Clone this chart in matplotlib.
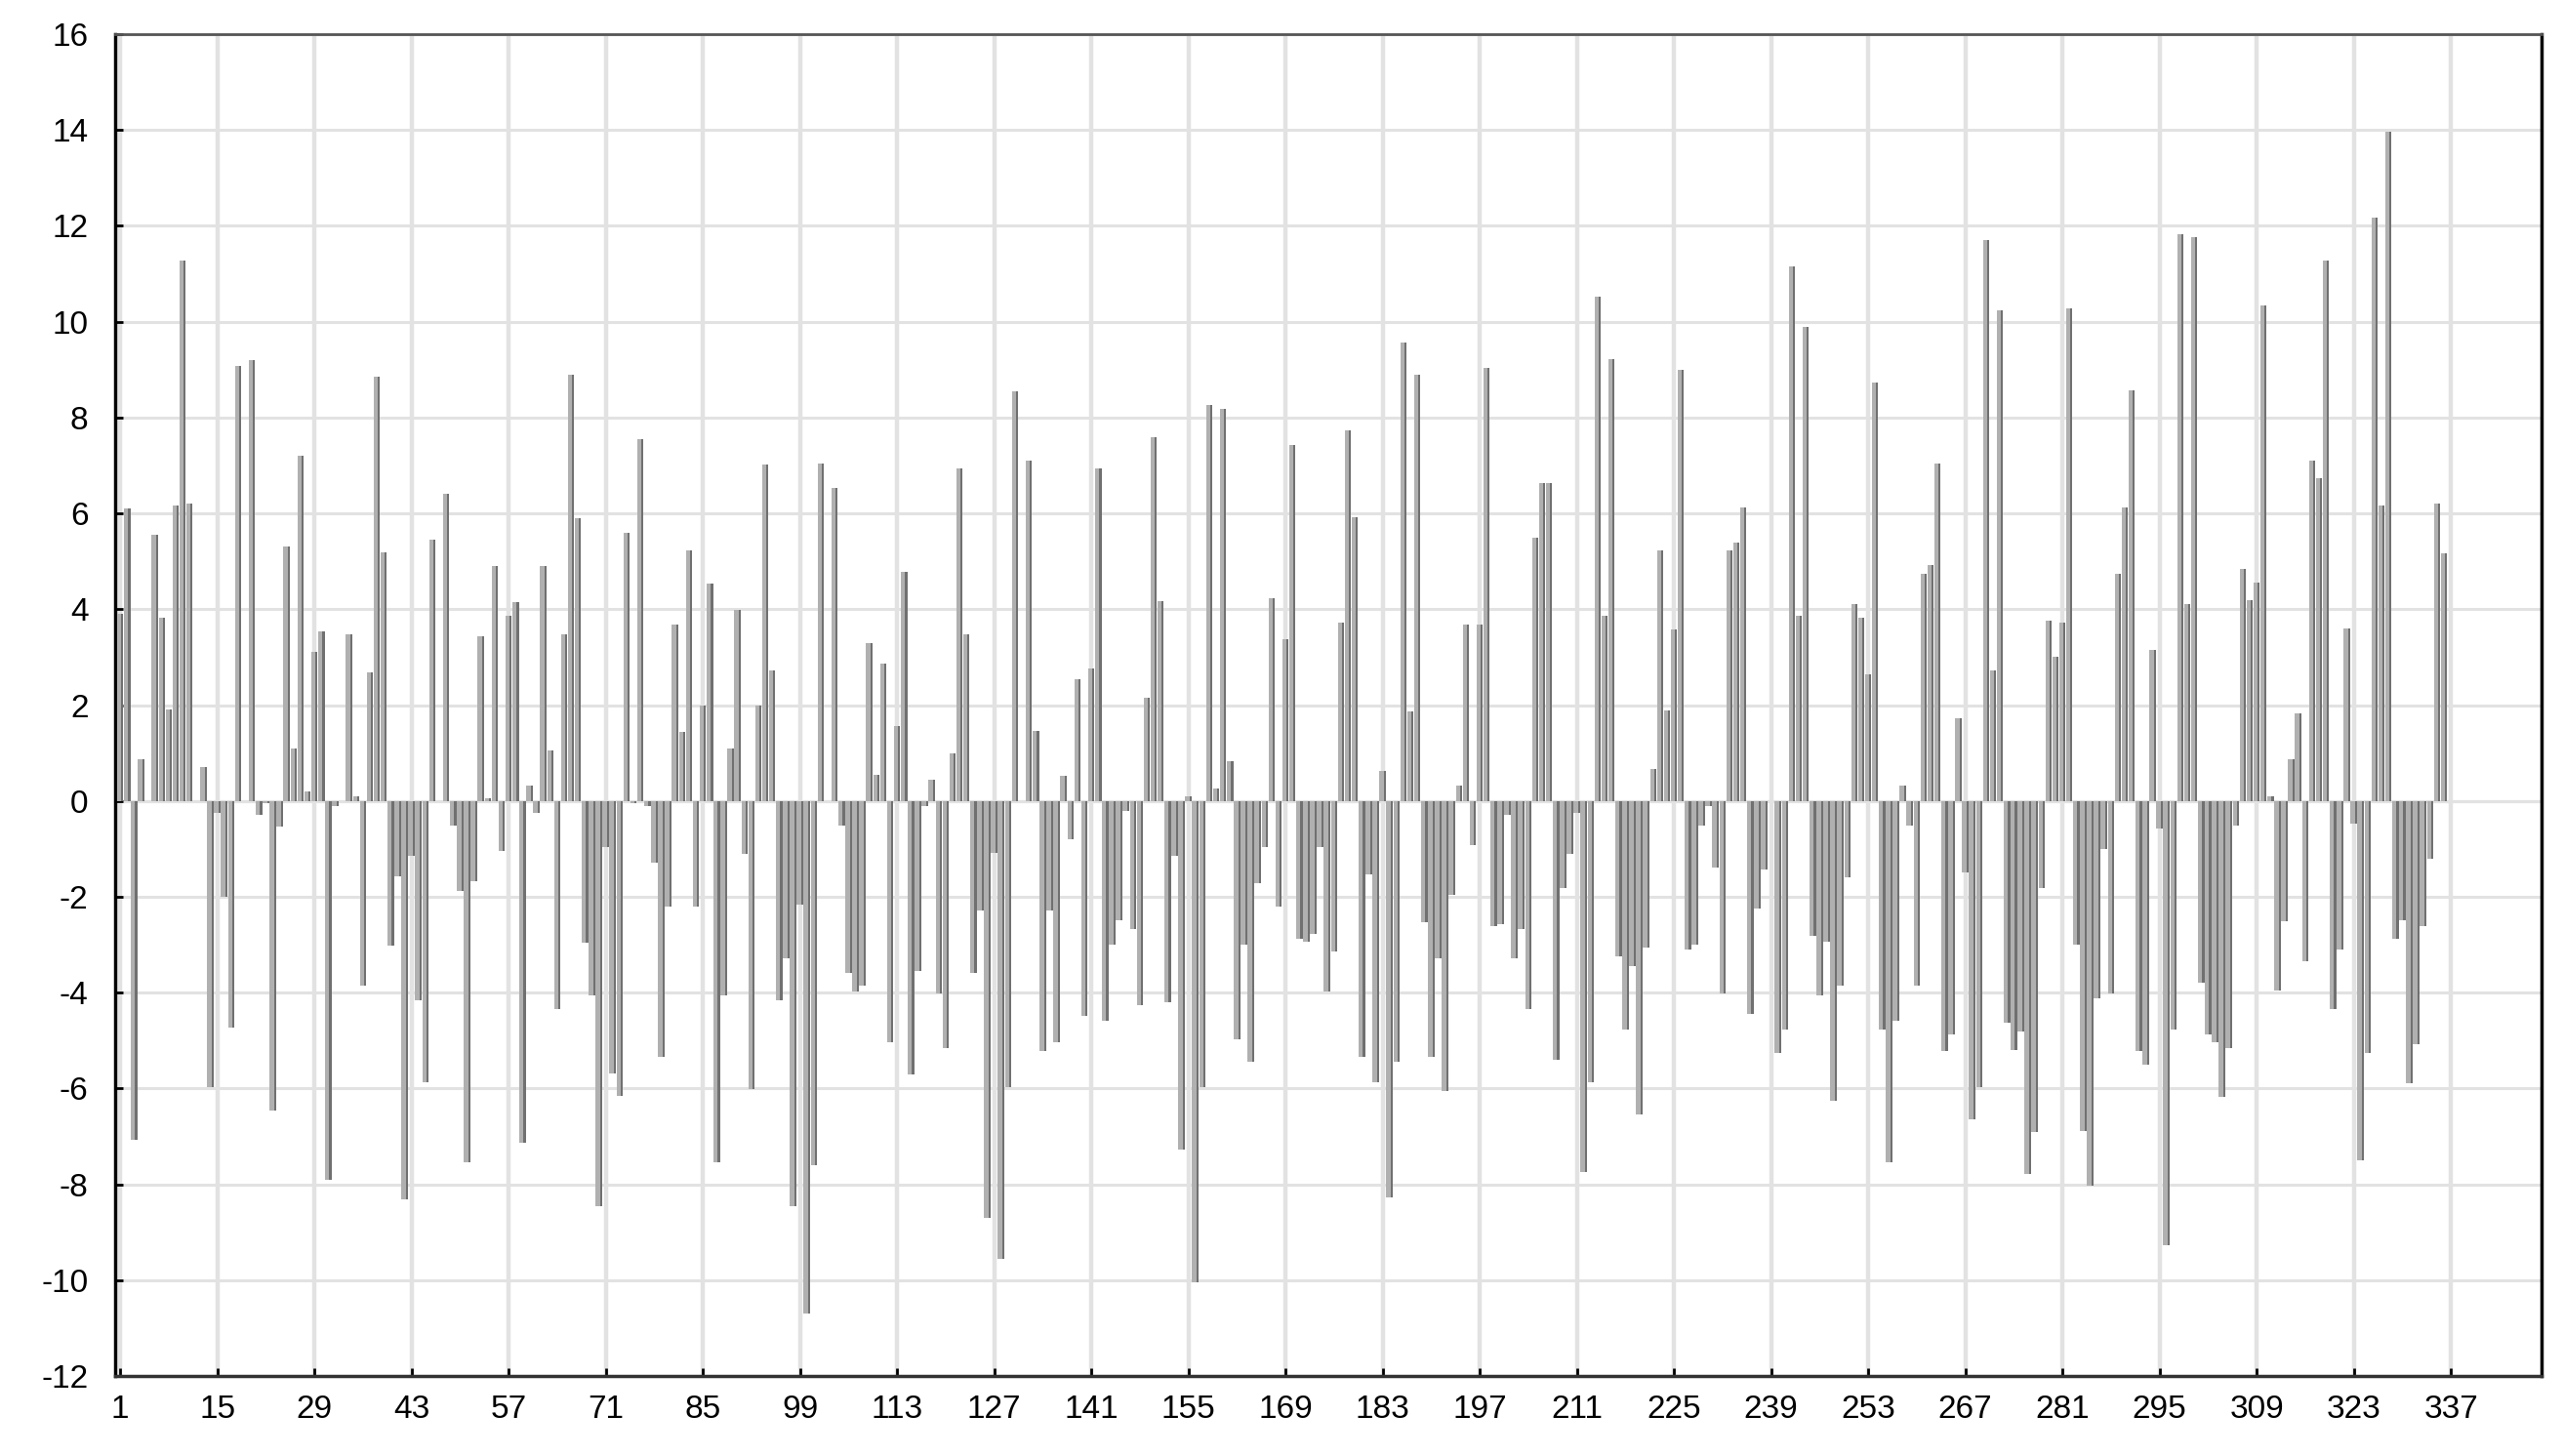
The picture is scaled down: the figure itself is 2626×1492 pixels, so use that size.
import numpy as np
import matplotlib
matplotlib.use("Agg")
import matplotlib.pyplot as plt

plt.rcParams['font.family'] = ['Liberation Sans', 'DejaVu Sans']
plt.rcParams['axes.unicode_minus'] = False

# bar values, index 1..336
vals_a = [3.9, 6.1, -7.07, 0.86, 0.0, 5.55, 3.82, 1.91, 6.16, 11.28,
          6.2, 0.0, 0.7, -5.97, -0.25, -2.0, -4.74, 9.08, 0.0, 9.2,
          -0.3, -0.05, -6.46, -0.53, 5.3, 1.09, 7.2, 0.19, 3.1, 3.54,
          -7.9, -0.1, 0.0, 3.48, 0.1, -3.86, 2.68, 8.85, 5.18, -3.02,
          -1.57, -8.32, -1.15, -4.17, -5.87, 5.45, 0.0, 6.4, -0.52, -1.87,
          -7.55, -1.68, 3.44, 0.05, 4.91, -1.05, 3.86, 4.15, -7.13, 0.33,
          -0.25, 4.91, 1.05, -4.34, 3.48, 8.89, 5.89, -2.96, -4.05, -8.45,
          -0.96, -5.68, -6.16, 5.6, -0.05, 7.55, -0.1, -1.28, -5.35, -2.2,
          3.67, 1.43, 5.22, -2.2]
vals_b = [2.0, 4.53, -7.55, -4.05, 1.09, 3.98, -1.11, -6.02, 2.0, 7.02,
          2.72, -4.17, -3.29, -8.45, -2.16, -10.7, -7.6, 7.04, 0.0, 6.54,
          -0.52, -3.6, -3.98, -3.86, 3.29, 0.55, 2.87, -5.03, 1.57, 4.78,
          -5.7, -3.54, -0.1, 0.44, -4.02, -5.16, 0.99, 6.94, 3.48, -3.6,
          -2.29, -8.7, -1.09, -9.56, -5.97, 8.55, 0.0, 7.11, 1.47, -5.22,
          -2.29, -5.03, 0.52, -0.8, 2.54, -4.49, 2.77, 6.94, -4.59, -3.0,
          -2.49, -0.2, -2.68, -4.26, 2.16, 7.59, 4.17, -4.2, -1.15, -7.27,
          0.1, -10.04, -5.97, 8.26, 0.25, 8.18, 0.82, -4.97, -3.0, -5.45,
          -1.72, -0.96, 4.23, -2.2]
vals_c = [3.38, 7.42, -2.87, -2.93, -2.77, -0.96, -3.98, -3.15, 3.73, 7.74,
          5.93, -5.35, -1.53, -5.87, 0.63, -8.28, -5.45, 9.56, 1.87, 8.89,
          -2.54, -5.35, -3.29, -6.06, -1.97, 0.33, 3.67, -0.92, 3.67, 9.04,
          -2.62, -2.58, -0.29, -3.29, -2.68, -4.34, 5.49, 6.63, 6.63, -5.41,
          -1.82, -1.11, -0.25, -7.74, -5.87, 10.52, 3.86, 9.22, -3.25, -4.78,
          -3.44, -6.54, -3.06, 0.67, 5.22, 1.89, 3.58, 8.99, -3.1, -3.0,
          -0.52, -0.1, -1.4, -4.02, 5.22, 5.39, 6.12, -4.44, -2.24, -1.43,
          0.0, -5.26, -4.78, 11.15, 3.86, 9.9, -2.81, -4.05, -2.93, -6.25,
          -3.86, -1.59, 4.11, 3.82]
vals_d = [2.64, 8.74, -4.78, -7.55, -4.59, 0.33, -0.52, -3.86, 4.74, 4.93,
          7.04, -5.22, -4.88, 1.72, -1.49, -6.65, -5.98, 11.7, 2.72, 10.23,
          -4.63, -5.2, -4.82, -7.78, -6.92, -1.82, 3.77, 3.0, 3.73, 10.27,
          -3.0, -6.88, -8.03, -4.11, -1.01, -4.02, 4.74, 6.12, 8.57, -5.22,
          -5.51, 3.15, -0.57, -9.27, -4.78, 11.82, 4.11, 11.76, -3.79, -4.88,
          -5.03, -6.18, -5.16, -0.52, 4.84, 4.19, 4.55, 10.33, 0.1, -3.96,
          -2.52, 0.86, 1.82, -3.35, 7.11, 6.73, 11.28, -4.34, -3.1, 3.59,
          -0.48, -7.51, -5.26, 12.18, 6.16, 13.96, -2.87, -2.49, -5.89, -5.07,
          -2.62, -1.2, 6.21, 5.16]

xticks = list(range(1, 338, 14))
yticks = list(range(-12, 17, 2))

values = np.array(vals_a + vals_b + vals_c + vals_d)
idx = np.arange(1, len(values) + 1)

fig = plt.figure(figsize=(26.26, 14.92), dpi=100)
ax = fig.add_axes([0.045, 0.055, 0.9467, 0.9215])

# light body + darker right edge, like the shaded bars of the original
ax.bar(idx, values, width=0.92, color='#b0b0b0', zorder=3)
ax.bar(idx + 0.46, values, width=-0.3, align='edge', color='#707070', zorder=4)

ax.set_xlim(0.3, 350.1)
ax.set_ylim(-12, 16)
ax.set_xticks(xticks)
ax.set_yticks(yticks)

ax.grid(True, axis='y', color='#e2e2e2', linewidth=2.2, zorder=0)
ax.grid(True, axis='x', color='#e2e2e2', linewidth=3.2, zorder=0)
ax.axhline(0, color='#d8d8d8', linewidth=2.2, zorder=1)

ax.tick_params(axis='both', direction='in', length=6, width=2, labelsize=24,
               colors='black')
ax.tick_params(axis='x', pad=14)
ax.tick_params(axis='y', pad=20)

for side in ['left', 'right', 'bottom']:
    ax.spines[side].set_linewidth(2.5)
    ax.spines[side].set_color('black')
ax.spines['bottom'].set_color('#333333')
ax.spines['top'].set_linewidth(2)
ax.spines['top'].set_color('#555555')

plt.savefig("out.png", dpi=100)
